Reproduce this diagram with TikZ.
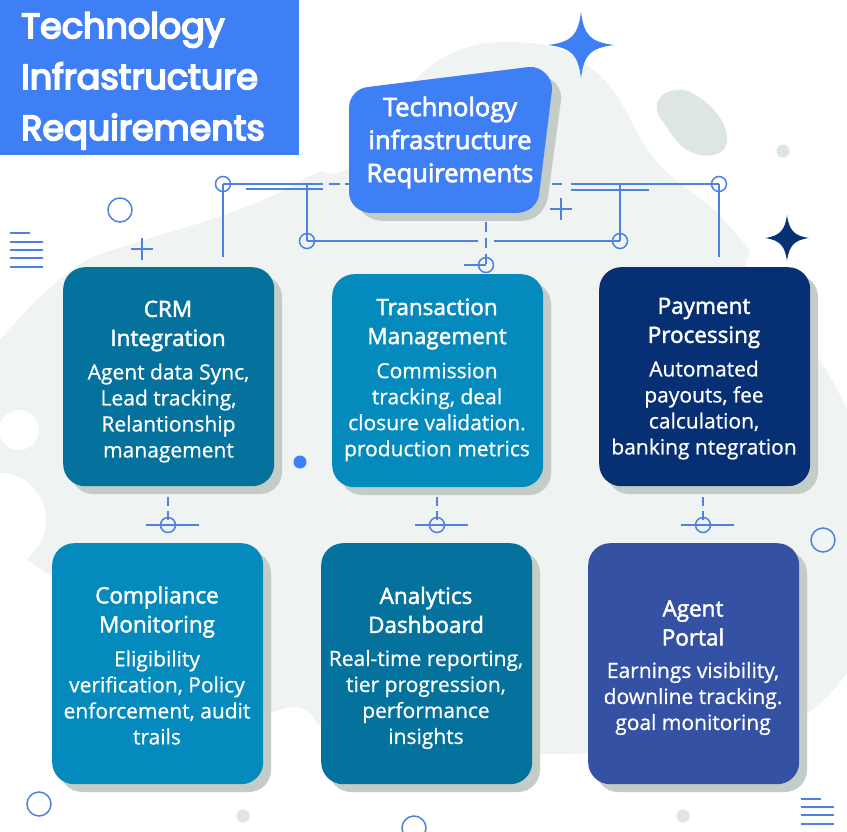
\documentclass[tikz,border=0pt]{standalone}
\usepackage{fontspec}
\setmainfont{Open Sans}
\newfontfamily\bigf{Poppins}
\newfontfamily\headf{Open Sans}
\newfontfamily\bodyf{Open Sans}
\newcommand{\heavy}[2]{\special{pdf:code 2 Tr #1 w}#2\special{pdf:code 0 Tr 1 w}}
\newcommand{\bodyline}[1]{\heavy{0.15}{#1}}
\definecolor{blob}{HTML}{EFF3F1}
\definecolor{blobd}{HTML}{DDE6E1}
\definecolor{shad}{HTML}{C3CCC6}
\definecolor{acc}{HTML}{3F7FF5}
\definecolor{ln}{HTML}{4F80E2}
\definecolor{teal}{HTML}{04729C}
\definecolor{sky}{HTML}{058ABD}
\definecolor{navy}{HTML}{072F73}
\definecolor{indigo}{HTML}{3551A4}
\tikzset{
 x=1pt,y=-1pt,
 wire/.style={draw=ln,line width=1.5pt},
 thin wire/.style={draw=ln,line width=1.2pt},
 ring/.style={circle,draw=ln,line width=1.5pt,minimum size=15pt,inner sep=0pt},
 card/.style={rounded corners=22pt,minimum width=211pt,anchor=north west,inner sep=0pt},
 cardshadow/.style={fill=shad,rounded corners=22pt},
 ttl/.style={font=\headf\fontsize{22.5}{29}\selectfont,text=white,align=center},
 txt/.style={font=\bodyf\fontsize{21}{26}\selectfont,text=white,align=center},
 deco/.style={draw=ln,line width=1.4pt},
}
\newcommand{\crd}[5]{% name x y h color
 \fill[cardshadow] (#2+8,#3+8) rectangle ++(211,#4);
 \node[card,fill=#5,minimum height=#4 pt] (#1) at (#2,#3) {};
}
\begin{document}
\begin{tikzpicture}
\useasboundingbox (0,0) rectangle (847,832);
\fill[white] (0,0) rectangle (847,832);
% blob
\fill[blob] (0,340) .. controls (30,305) and (60,275) .. (90,258)
 .. controls (150,235) and (250,215) .. (307,177)
 -- (321,171) .. controls (328,175) and (335,175) .. (345,170)
 .. controls (385,150) and (385,110) .. (418,77)
 .. controls (440,55) and (470,42) .. (503,42)
 .. controls (525,42) and (545,44) .. (557,48)
 .. controls (580,58) and (595,70) .. (607,83)
 .. controls (620,98) and (628,115) .. (636,130)
 .. controls (645,148) and (655,160) .. (664,170)
 .. controls (680,185) and (700,198) .. (718,213)
 -- (750,250) -- (745,265)
 .. controls (780,300) and (825,360) .. (847,410)
 -- (847,673) .. controls (835,690) and (820,705) .. (807,713)
 .. controls (780,735) and (700,752) .. (560,754) -- (340,754)
 .. controls (325,750) and (325,725) .. (317,723)
 .. controls (310,708) and (300,707) .. (293,707)
 .. controls (285,708) and (278,710) .. (270,713)
 -- (47,573) -- (27,560) -- (42,540) -- (0,480) -- cycle;
\fill[white] (19,430) circle (20);
\fill[white] (0,520) ellipse (46 and 47);
\fill[blobd] (657,103) .. controls (662,90) and (680,87) .. (690,92)
 .. controls (715,105) and (728,125) .. (727,140)
 .. controls (727,155) and (710,157) .. (700,155)
 .. controls (675,150) and (668,125) .. (660,118) .. controls (657,112) and (656,108) .. (657,103) -- cycle;
\fill[blobd] (783,151) circle (6.5);
\fill[blobd] (243,816) circle (6.5);
\fill[blobd] (683,816) circle (6.5);
% title
\fill[acc] (0,0) rectangle (299,155);
\node[font=\bigf\fontsize{35}{51}\selectfont,text=white,align=left,anchor=north west,inner sep=0pt] (title) at (21,12) {\heavy{1.7}{Technology}\\\heavy{1.7}{Infrastructure}\\\heavy{1.7}{Requirements}};
% stars
\fill[acc] (581,12) .. controls (584,35) and (590,42) .. (614,45) .. controls (590,48) and (584,55) .. (581,78) .. controls (578,55) and (572,48) .. (548,45) .. controls (572,42) and (578,35) .. (581,12) -- cycle;
\fill[navy] (787,215) .. controls (789,230) and (794,236) .. (809,238) .. controls (794,240) and (789,246) .. (787,261) .. controls (785,246) and (780,240) .. (765,238) .. controls (780,236) and (785,230) .. (787,215) -- cycle;
% central shape
\fill[shad] (500,80) -- (540,76) .. controls (555,78) and (562,88) .. (561,100) -- (548,197) .. controls (545,212) and (535,221) .. (520,221) -- (385,221) .. controls (375,221) and (368,218) .. (362,212) -- cycle;
\fill[acc] (368,87) -- (529,67) .. controls (542,66) and (553,78) .. (552,90) -- (539,195) .. controls (537,206) and (528,213) .. (515,213) -- (372,213) .. controls (358,213) and (349,203) .. (349,192) -- (349,108) .. controls (349,97) and (357,88) .. (368,87) -- cycle;
\node[font=\headf\fontsize{25.5}{33}\selectfont,text=white,align=center,inner sep=0pt] (hub) at (450,142.5) {\heavy{0.7}{Technology}\\\heavy{0.7}{infrastructure}\\\heavy{0.7}{Requirements}};
% wires
\coordinate (hl) at (349,184); \coordinate (hr) at (552,184); \coordinate (hb) at (486,222);
\node[ring] (a) at (223,184) {};
\node[ring] (b) at (719,184) {};
\node[ring] (c) at (307,241) {};
\node[ring] (d) at (620,241) {};
\node[ring] (e) at (486,265) {};
\draw[wire] (a.center) -- (323,184);
\draw[wire,dash pattern=on 11pt off 5pt] (329,184) -- (hl);
\draw[thin wire] (246,189) -- (323,189);
\draw[wire] (hr) -- (562,184);
\draw[wire] (571,184) -- (b.center);
\draw[thin wire] (571,190) -- (649,190);
\draw[wire] (a.center) -- (223,257);
\draw[wire] (b.center) -- (719,257);
\draw[wire] (307,184) -- (c.center);
\draw[wire] (620,184) -- (d.center);
\draw[wire] (c.center) -- (478,241);
\draw[wire] (494,241) -- (d.center);
\draw[wire,dash pattern=on 10pt off 6pt] (hb) -- (e.center);
\draw[wire] (464,265) -- (e.center);
\draw[deco] (561,198) -- (561,220) (550,209) -- (572,209);
% cards
\crd{c1}{63}{267}{219}{teal}
\crd{c2}{332}{274}{213}{sky}
\crd{c3}{599}{267}{219}{navy}
\crd{c4}{52}{543}{241}{sky}
\crd{c5}{321}{543}{241}{teal}
\crd{c6}{588}{543}{241}{indigo}
\node[ttl] (t1) at (168,326) {\heavy{0.45}{CRM}\\\heavy{0.45}{Integration}};
\node[txt] (b1) at (168.5,413) {\bodyline{Agent data Sync,}\\\bodyline{Lead tracking,}\\\bodyline{Relantionship}\\\bodyline{management}};
\node[ttl] (t2) at (437,324) {\heavy{0.45}{Transaction}\\\heavy{0.45}{Management}};
\node[txt] (b2) at (437,412) {\bodyline{Commission}\\\bodyline{tracking, deal}\\\bodyline{closure validation.}\\\bodyline{production metrics}};
\node[ttl] (t3) at (704,323) {\heavy{0.45}{Payment}\\\heavy{0.45}{Processing}};
\node[txt] (b3) at (704,410) {\bodyline{Automated}\\\bodyline{payouts, fee}\\\bodyline{calculation,}\\\bodyline{banking ntegration}};
\node[ttl] (t4) at (157,612) {\heavy{0.45}{Compliance}\\\heavy{0.45}{Monitoring}};
\node[txt] (b4) at (157,697.5) {\bodyline{Eligibility}\\\bodyline{verification, Policy}\\\bodyline{enforcement, audit}\\\bodyline{trails}};
\node[ttl] (t5) at (426,610) {\heavy{0.45}{Analytics}\\\heavy{0.45}{Dashboard}};
\node[txt] (b5) at (426,699.5) {\bodyline{Real-time reporting,}\\\bodyline{tier progression,}\\\bodyline{performance}\\\bodyline{insights}};
\node[ttl] (t6) at (693,623) {\heavy{0.45}{Agent}\\\heavy{0.45}{Portal}};
\node[txt] (b6) at (693,698.5) {\bodyline{Earnings visibility,}\\\bodyline{downline tracking.}\\\bodyline{goal monitoring}};
% lower joints
\foreach \n/\x in {f/168,g/437,h/703}{
 \node[ring] (\n) at (\x,525) {};
 \draw[wire,dash pattern=on 9pt off 5pt] (\x,497) -- (\n.center);
 \draw[wire] (\x-22,525) -- (\x+31,525);
}
% decorations
\node[ring,minimum size=24pt] (r1) at (120,210) {};
\node[ring,minimum size=24pt] (r2) at (823,540) {};
\node[ring,minimum size=24pt] (r3) at (39,804) {};
\node[ring,minimum size=24pt] (r4) at (414,828) {};
\fill[acc] (300,462) circle (6.5);
\draw[deco] (142,238) -- (142,260) (131,249) -- (153,249);
\draw[deco] (10,233) -- (30,233) (10,242) -- (43,242) (10,250) -- (43,250) (10,258) -- (43,258) (10,267) -- (43,267);
\draw[deco] (801,799) -- (821,799) (801,807) -- (834,807) (801,815) -- (834,815) (801,824) -- (834,824);
\end{tikzpicture}
\end{document}
